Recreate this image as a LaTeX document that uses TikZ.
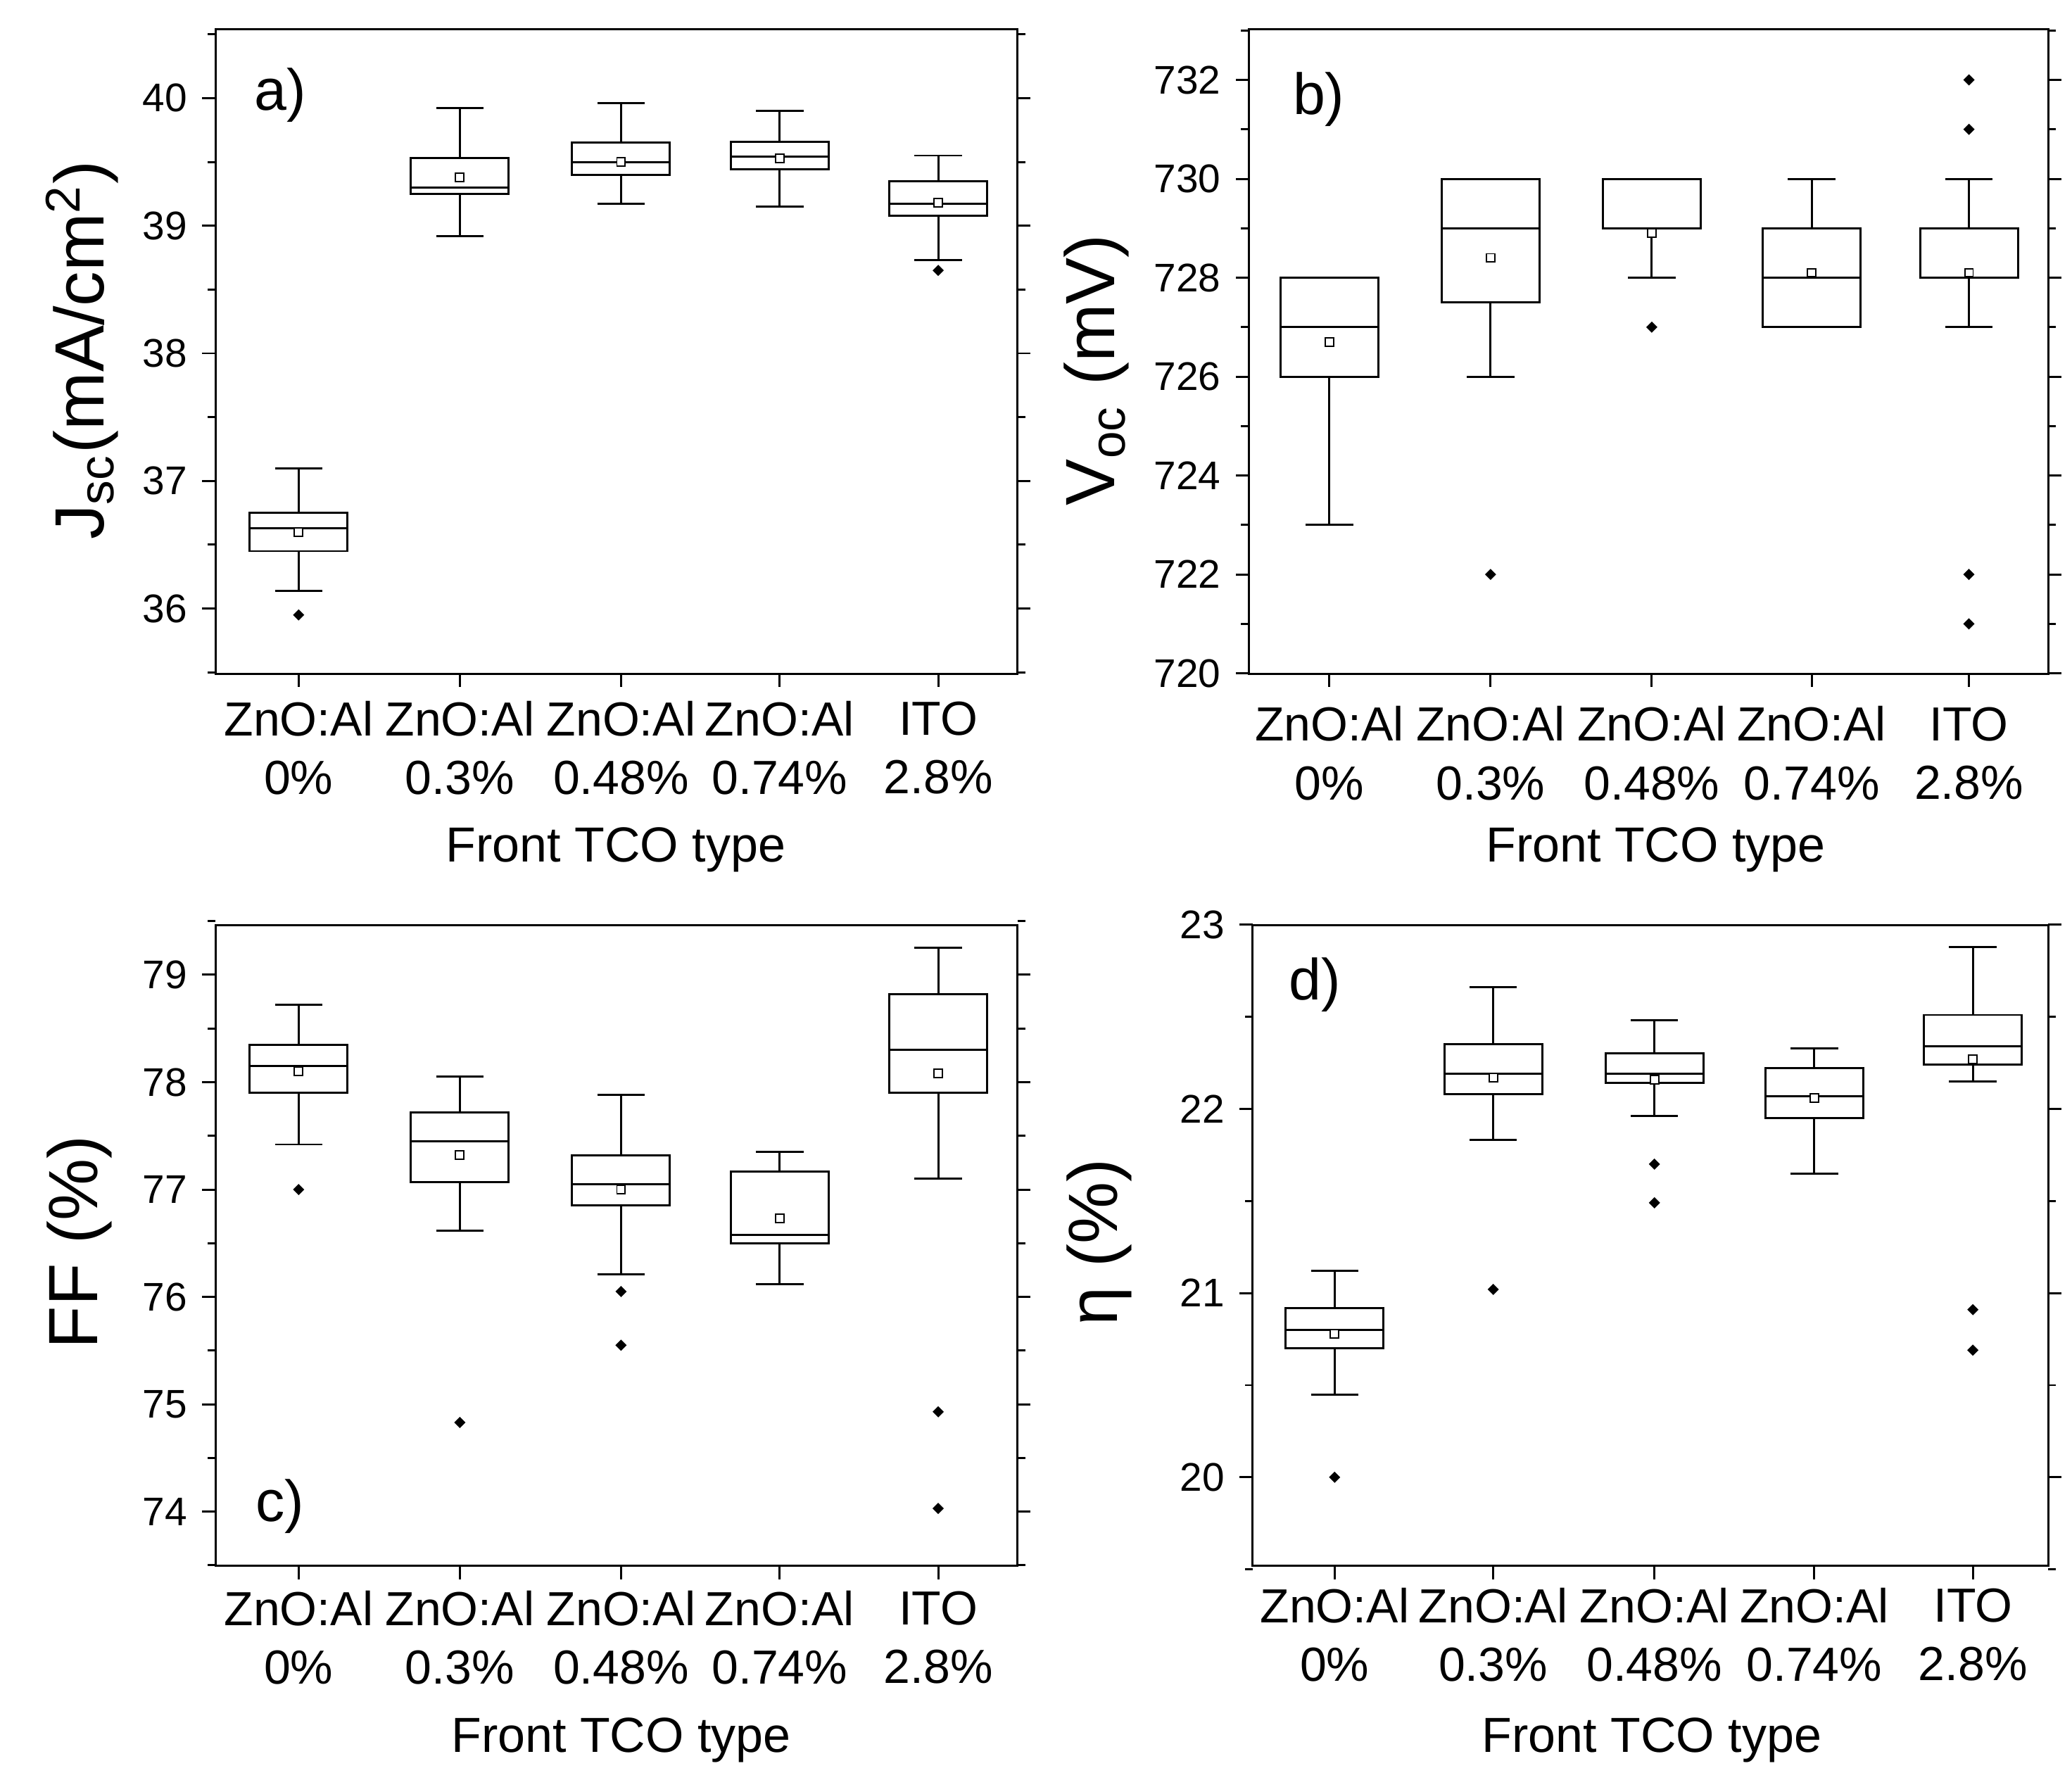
\documentclass[tikz,border=0pt]{standalone}
\usepackage{fontspec}
\setmainfont{Liberation Sans}
\usetikzlibrary{shapes.geometric}
\begin{document}
\begin{tikzpicture}[x=0.01cm,y=0.01cm,line width=0.45pt,
 meanmk/.style={draw,fill=white,minimum size=1.8pt,inner sep=0pt,line width=0.3pt,rectangle},
 outmk/.style={fill=black,minimum size=2.6pt,inner sep=0pt,diamond},
 tl/.style={left,font=\fontsize{8.6}{10}\selectfont,inner sep=3pt},
 cat/.style={align=center,font=\fontsize{10.3}{12.6}\selectfont},
 xl/.style={font=\fontsize{10.6}{13}\selectfont},
 yl/.style={rotate=90,font=\fontsize{15}{17}\selectfont},
 pl/.style={font=\fontsize{12.5}{15}\selectfont}]
\useasboundingbox (0,0) rectangle (1568,1356);
\newcommand\bp[7]{%
 \draw (#1-37,#3-\B) rectangle (#1+37,#5-\B);
 \draw (#1-37,#4-\B) -- (#1+37,#4-\B);
 \draw (#1,#2-\B) -- (#1,#3-\B); \draw (#1-18,#2-\B) -- (#1+18,#2-\B);
 \draw (#1,#5-\B) -- (#1,#6-\B); \draw (#1-18,#6-\B) -- (#1+18,#6-\B);
 \node[meanmk] at (#1,#7-\B) {};}
\newcommand\ol[2]{\node[outmk] at (#1,#2-\B) {};}
% ---------- a
\draw (163,846) rectangle (770,1334);
\begin{scope}[yshift=8.95cm,y=0.965cm]\def\B{36}
\foreach \v in {36,...,40}{\draw (163,\v-\B)--(153,\v-\B) node[tl]{\v}; \draw (770,\v-\B)--(780,\v-\B);}
\foreach \v in {35.5,36.5,...,40.5}{\draw (163,\v-\B)--(157,\v-\B); \draw (770,\v-\B)--(776,\v-\B);}
\bp{226}{36.14}{36.45}{36.63}{36.75}{37.1}{36.6}\ol{226}{35.95}
\bp{348}{38.92}{39.25}{39.3}{39.53}{39.92}{39.38}
\bp{470}{39.17}{39.4}{39.5}{39.65}{39.96}{39.5}
\bp{590}{39.15}{39.44}{39.54}{39.66}{39.9}{39.53}
\bp{710}{38.73}{39.08}{39.17}{39.35}{39.55}{39.18}\ol{710}{38.65}
\end{scope}
\foreach \x in {226,348,470,590,710}\draw (\x,846)--(\x,836);
\node[cat] at (226,790) {ZnO:Al\\0\%};
\node[cat] at (348,790) {ZnO:Al\\0.3\%};
\node[cat] at (470,790) {ZnO:Al\\0.48\%};
\node[cat] at (590,790) {ZnO:Al\\0.74\%};
\node[cat] at (710,790) {ITO\\2.8\%};
\node[xl] at (466,713) {Front TCO type};
\node[yl] at (62,1091) {J\textsubscript{sc}(mA/cm\textsuperscript{2})};
\node[pl] at (212,1284) {a)};
% ---------- b
\draw (945,846) rectangle (1550,1334);
\begin{scope}[yshift=8.46cm,y=0.374cm]\def\B{720}
\foreach \v in {720,722,...,732}{\draw (945,\v-\B)--(935,\v-\B) node[tl]{\v}; \draw (1550,\v-\B)--(1560,\v-\B);}
\foreach \v in {721,723,...,733}{\draw (945,\v-\B)--(939,\v-\B); \draw (1550,\v-\B)--(1556,\v-\B);}
\bp{1006}{723}{726}{727}{728}{728}{726.7}
\bp{1128}{726}{727.5}{729}{730}{730}{728.4}\ol{1128}{722}
\bp{1250}{728}{729}{729}{730}{730}{728.9}\ol{1250}{727}
\bp{1371}{727}{727}{728}{729}{730}{728.1}
\bp{1490}{727}{728}{728}{729}{730}{728.1}\ol{1490}{732}\ol{1490}{731}\ol{1490}{722}\ol{1490}{721}
\end{scope}
\foreach \x in {1006,1128,1250,1371,1490}\draw (\x,846)--(\x,836);
\node[cat] at (1006,786) {ZnO:Al\\0\%};
\node[cat] at (1128,786) {ZnO:Al\\0.3\%};
\node[cat] at (1250,786) {ZnO:Al\\0.48\%};
\node[cat] at (1371,786) {ZnO:Al\\0.74\%};
\node[cat] at (1490,786) {ITO\\2.8\%};
\node[xl] at (1253,713) {Front TCO type};
\node[yl] at (830,1076) {V\textsubscript{oc} (mV)};
\node[pl] at (998,1281) {b)};
% ---------- c
\draw (163,171) rectangle (770,656);
\begin{scope}[yshift=2.12cm,y=0.812cm]\def\B{74}
\foreach \v in {74,...,79}{\draw (163,\v-\B)--(153,\v-\B) node[tl]{\v}; \draw (770,\v-\B)--(780,\v-\B);}
\foreach \v in {73.5,74.5,...,79.5}{\draw (163,\v-\B)--(157,\v-\B); \draw (770,\v-\B)--(776,\v-\B);}
\bp{226}{77.42}{77.9}{78.15}{78.35}{78.72}{78.1}\ol{226}{77.0}
\bp{348}{76.62}{77.07}{77.45}{77.72}{78.05}{77.32}\ol{348}{74.83}
\bp{470}{76.21}{76.85}{77.05}{77.32}{77.88}{77.0}\ol{470}{76.05}\ol{470}{75.55}
\bp{590}{76.12}{76.5}{76.58}{77.17}{77.35}{76.73}
\bp{710}{77.1}{77.9}{78.3}{78.82}{79.25}{78.08}\ol{710}{74.93}\ol{710}{74.03}
\end{scope}
\foreach \x in {226,348,470,590,710}\draw (\x,171)--(\x,161);
\node[cat] at (226,117) {ZnO:Al\\0\%};
\node[cat] at (348,117) {ZnO:Al\\0.3\%};
\node[cat] at (470,117) {ZnO:Al\\0.48\%};
\node[cat] at (590,117) {ZnO:Al\\0.74\%};
\node[cat] at (710,117) {ITO\\2.8\%};
\node[xl] at (470,39) {Front TCO type};
\node[yl] at (60,416) {FF (\%)};
\node[pl] at (212,216) {c)};
% ---------- d
\draw (948,171) rectangle (1550,656);
\begin{scope}[yshift=2.38cm,y=1.393cm]\def\B{20}
\foreach \v in {20,...,23}{\draw (948,\v-\B)--(938,\v-\B) node[tl]{\v}; \draw (1550,\v-\B)--(1560,\v-\B);}
\foreach \v in {19.5,20.5,...,22.5}{\draw (948,\v-\B)--(942,\v-\B); \draw (1550,\v-\B)--(1556,\v-\B);}
\bp{1010}{20.45}{20.7}{20.8}{20.92}{21.12}{20.78}\ol{1010}{20.0}
\bp{1130}{21.83}{22.08}{22.19}{22.35}{22.66}{22.17}\ol{1130}{21.02}
\bp{1252}{21.96}{22.14}{22.19}{22.3}{22.48}{22.16}\ol{1252}{21.7}\ol{1252}{21.49}
\bp{1373}{21.65}{21.95}{22.07}{22.22}{22.33}{22.06}
\bp{1493}{22.15}{22.24}{22.34}{22.51}{22.88}{22.27}\ol{1493}{20.91}\ol{1493}{20.69}
\end{scope}
\foreach \x in {1010,1130,1252,1373,1493}\draw (\x,171)--(\x,161);
\node[cat] at (1010,119) {ZnO:Al\\0\%};
\node[cat] at (1130,119) {ZnO:Al\\0.3\%};
\node[cat] at (1252,119) {ZnO:Al\\0.48\%};
\node[cat] at (1373,119) {ZnO:Al\\0.74\%};
\node[cat] at (1493,119) {ITO\\2.8\%};
\node[xl] at (1250,39) {Front TCO type};
\node[yl] at (832,416) {η (\%)};
\node[pl] at (995,611) {d)};
\end{tikzpicture}
\end{document}
